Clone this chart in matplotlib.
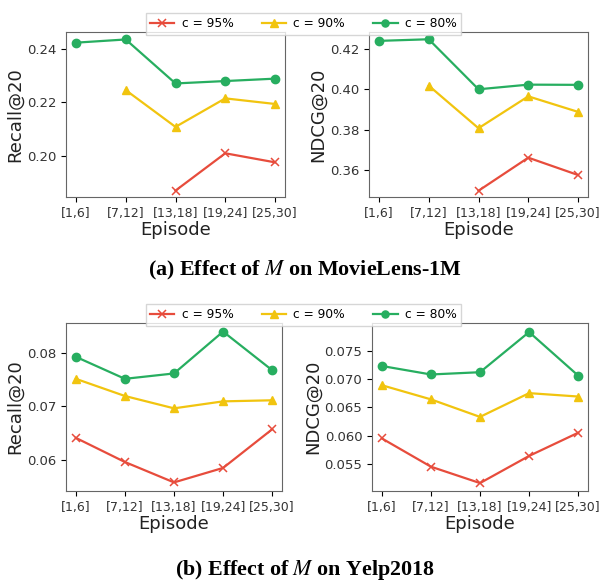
import numpy as np
import matplotlib
matplotlib.use("Agg")
import matplotlib.pyplot as plt

plt.rcParams['mathtext.fontset'] = 'stix'

episodes = ["[1,6]", "[7,12]", "[13,18]", "[19,24]", "[25,30]"]
labels = ["c = 95%", "c = 90%", "c = 80%"]
colors = ["#e74c3c", "#f1c40f", "#27ae60"]
markers = ["x", "^", "o"]

# MovieLens-1M (nan = no point)
ml_recall_95 = [np.nan, np.nan, 0.1869, 0.2009, 0.1975]
ml_recall_90 = [np.nan, 0.2246, 0.2108, 0.2215, 0.2194]
ml_recall_80 = [0.2424, 0.2436, 0.2271, 0.2280, 0.2289]
ml_ndcg_95 = [np.nan, np.nan, 0.3497, 0.3661, 0.3575]
ml_ndcg_90 = [np.nan, 0.4018, 0.3807, 0.3965, 0.3888]
ml_ndcg_80 = [0.4240, 0.4248, 0.4000, 0.4023, 0.4022]

# Yelp2018
yp_recall_95 = [0.0641, 0.0596, 0.0558, 0.0585, 0.0657]
yp_recall_90 = [0.0751, 0.0719, 0.0696, 0.0709, 0.0711]
yp_recall_80 = [0.0792, 0.0751, 0.0761, 0.0839, 0.0767]
yp_ndcg_95 = [0.0595, 0.0545, 0.0516, 0.0564, 0.0605]
yp_ndcg_90 = [0.0689, 0.0664, 0.0633, 0.0675, 0.0669]
yp_ndcg_80 = [0.0723, 0.0708, 0.0712, 0.0783, 0.0706]

W, H = 603, 584
fig = plt.figure(figsize=(W / 100, H / 100), dpi=100)


def add_ax(x0, y0, x1, y1):
    return fig.add_axes([x0 / W, 1 - y1 / H, (x1 - x0) / W, (y1 - y0) / H])


def panel(ax, series, ylabel, ylim, yticks, fmt):
    x = np.arange(len(episodes))
    for vals, c, m, lab in zip(series, colors, markers, labels):
        ax.plot(x, vals, color=c, marker=m, markersize=6, linewidth=1.6,
                label=lab, markeredgewidth=1.1 if m == "x" else 1)
    ax.set_xticks(x)
    ax.set_xticklabels(episodes, fontsize=9, color="#333333")
    ax.set_yticks(yticks)
    ax.set_yticklabels([fmt % v for v in yticks], fontsize=9.5, color="#333333")
    ax.set_ylim(*ylim)
    ax.set_xlim(-0.2, 4.2)
    ax.set_xlabel("Episode", fontsize=13, labelpad=1, color="#222222")
    ax.set_ylabel(ylabel, fontsize=13, labelpad=2, color="#222222")
    for s in ax.spines.values():
        s.set_color("#666666")


ax1 = add_ax(66, 32, 285, 197)
panel(ax1, [ml_recall_95, ml_recall_90, ml_recall_80], "Recall@20",
      (0.1845, 0.2464), [0.20, 0.22, 0.24], "%.2f")
ax2 = add_ax(369, 32, 588, 197)
panel(ax2, [ml_ndcg_95, ml_ndcg_90, ml_ndcg_80], "NDCG@20",
      (0.3466, 0.4284), [0.36, 0.38, 0.40, 0.42], "%.2f")
ax3 = add_ax(66, 323, 282, 491)
panel(ax3, [yp_recall_95, yp_recall_90, yp_recall_80], "Recall@20",
      (0.0542, 0.0855), [0.06, 0.07, 0.08], "%.2f")
ax4 = add_ax(372, 323, 588, 491)
panel(ax4, [yp_ndcg_95, yp_ndcg_90, yp_ndcg_80], "NDCG@20",
      (0.0502, 0.0799), [0.055, 0.060, 0.065, 0.070, 0.075], "%.3f")

h, l = ax1.get_legend_handles_labels()
for ytop in (7, 298):
    leg = fig.legend(h, l, loc="upper center", bbox_to_anchor=(0.503, 1 - ytop / H),
                     ncol=3, fontsize=8.8, frameon=True, fancybox=False,
                     handlelength=2.0, columnspacing=2.3, borderpad=0.35,
                     handletextpad=0.6, markerscale=0.85)
    leg.get_frame().set_edgecolor("#cccccc")

fig.text(0.505, 1 - 270 / H, r"(a) Effect of $M$ on MovieLens-1M", ha="center",
         va="center", fontsize=15.8, fontweight="bold", family="Liberation Serif")
fig.text(0.505, 1 - 570 / H, r"(b) Effect of $M$ on Yelp2018", ha="center",
         va="center", fontsize=15.8, fontweight="bold", family="Liberation Serif")

fig.savefig("out.png", dpi=100)
